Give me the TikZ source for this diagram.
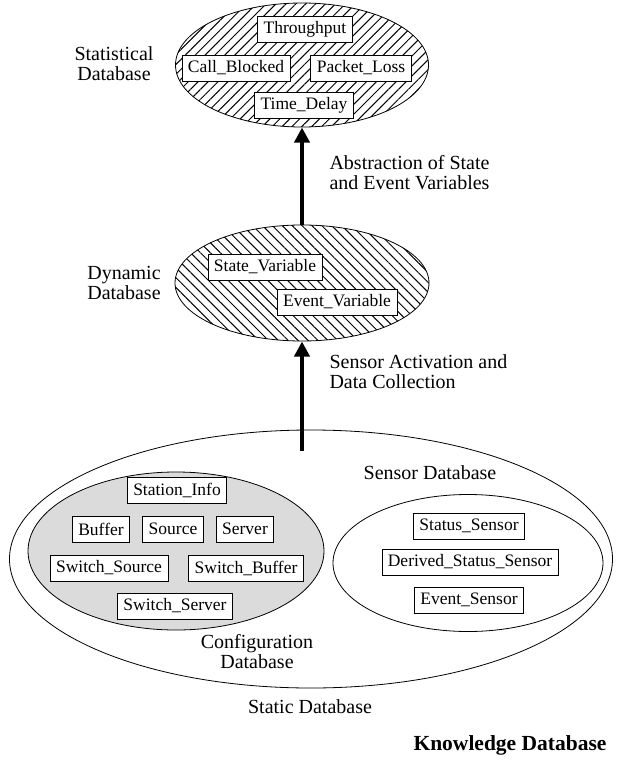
\documentclass[tikz,border=0pt]{standalone}
\usepackage{fontspec}
\setmainfont{Liberation Serif}
\usetikzlibrary{shapes.geometric,arrows.meta,patterns.meta}
\begin{document}
\begin{tikzpicture}[x=1pt,y=-1pt,
  item/.style={draw,fill=white,line width=0.7pt,inner xsep=6pt,inner ysep=3pt,
    minimum height=26pt,font=\fontsize{17.5}{17.5}\selectfont},
  label/.style={align=center,font=\fontsize{20}{20}\selectfont},
  dbell/.style={ellipse,draw,line width=0.8pt,inner sep=0pt},
  hatch/.style={pattern={Lines[angle=#1,distance=7pt,line width=1pt]}},
  flow/.style={line width=4pt,-{Triangle[width=15pt,length=15pt]}}]
  \useasboundingbox[fill=white] (0,0) rectangle (620,765);

  % statistical database
  \node[dbell,minimum width=253pt,minimum height=124pt,hatch=45] (stat) at (302,65) {};
  \node[item] (thr) at (305,29) {Throughput};
  \node[item] (cb) at (236,68) {Call\_Blocked};
  \node[item] (pl) at (361,68) {Packet\_Loss};
  \node[item] (td) at (304,105) {Time\_Delay};
  \node[label] (statl) at (114,64) {Statistical\\Database};

  % dynamic database
  \node[dbell,minimum width=254pt,minimum height=116pt,hatch=-45] (dyn) at (302,283) {};
  \node[item] (sv) at (265,267) {State\_Variable};
  \node[item] (ev) at (337,302) {Event\_Variable};
  \node[label] (dynl) at (124,283) {Dynamic\\Database};

  % static database
  \node[dbell,minimum width=603pt,minimum height=258pt] (static) at (311,559) {};
  \node[label] (staticl) at (310,707) {Static Database};

  % configuration database
  \node[dbell,minimum width=296pt,minimum height=158pt,fill=black!14] (conf) at (176,551) {};
  \node[item] (si) at (177,490) {Station\_Info};
  \node[item] (buf) at (101,529) {Buffer};
  \node[item] (src) at (173,529) {Source};
  \node[item] (srv) at (245,529) {Server};
  \node[item] (ssrc) at (109,568) {Switch\_Source};
  \node[item] (sbuf) at (246,568) {Switch\_Buffer};
  \node[item] (ssrv) at (175,606) {Switch\_Server};
  \node[label] (confl) at (257,652) {Configuration\\Database};

  % sensor database
  \node[dbell,minimum width=270pt,minimum height=137pt] (sens) at (468,563) {};
  \node[item] (ss) at (469,526) {Status\_Sensor};
  \node[item] (dss) at (470,562) {Derived\_Status\_Sensor};
  \node[item] (es) at (469,600) {Event\_Sensor};
  \node[label] (sensl) at (430,473) {Sensor Database};

  % flows between the layers
  \coordinate (tail) at (302,451);
  \draw[flow] (tail) -- (dyn.south);
  \draw[flow] (dyn.north) -- (stat.south);
  \node[label,align=left,anchor=west] (absl) at (326,173) {Abstraction of State\\and Event Variables};
  \node[label,align=left,anchor=west] (actl) at (326,372) {Sensor Activation and\\Data Collection};

  \node[align=center,font=\fontsize{21.5}{21.5}\selectfont\bfseries] (kdb) at (510,745) {Knowledge Database};
\end{tikzpicture}
\end{document}
